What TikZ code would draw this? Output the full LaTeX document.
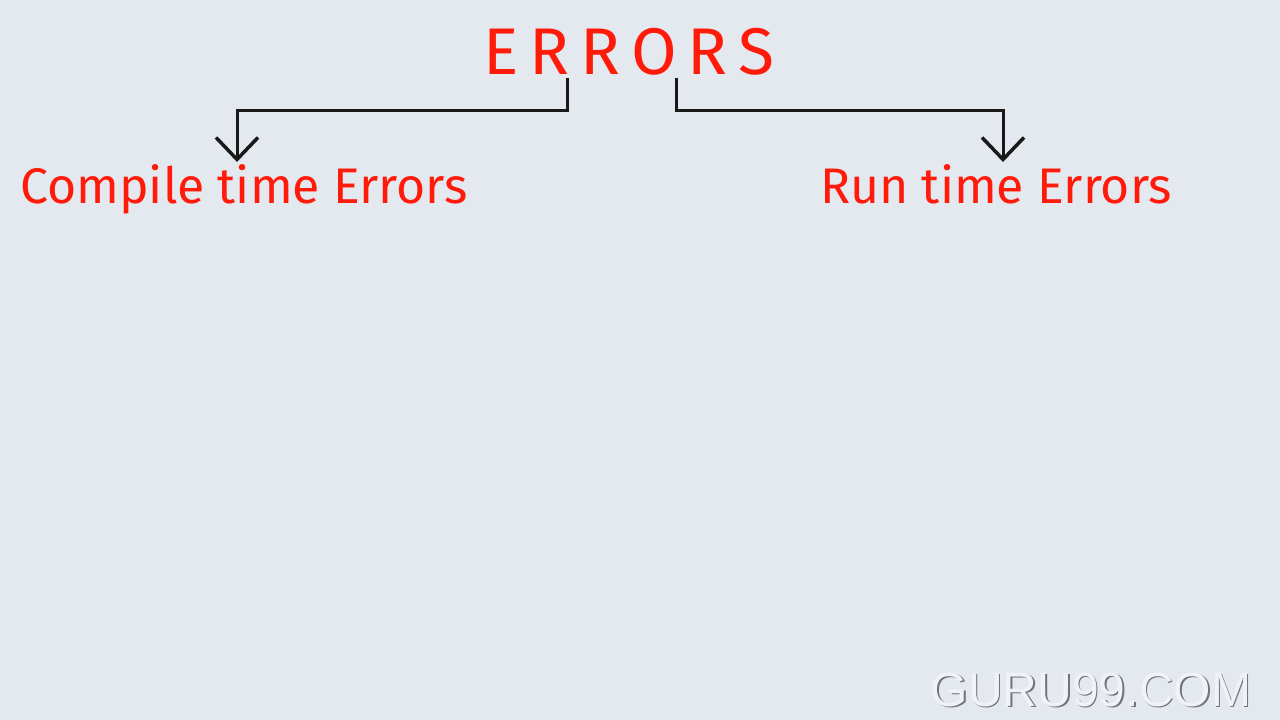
\documentclass[tikz,border=0pt]{standalone}
\usepackage{fontspec}
\setmainfont{Fira Sans}
\newfontfamily\markfont{Liberation Sans}
\usetikzlibrary{arrows.meta,positioning}
\definecolor{bgblue}{HTML}{E4E9F0}
\definecolor{errred}{HTML}{FF1A0A}
\tikzset{
  head/.style={font=\fontsize{66}{70}\selectfont, text=errred, inner sep=0pt, anchor=base},
  kind/.style={font=\fontsize{50}{54}\selectfont, text=errred, inner sep=0pt, anchor=base},
  branch/.style={-{Straight Barb[length=22pt, width=42pt, line width=3.5pt]}, line width=3pt, black!90},
}
\begin{document}
\begin{tikzpicture}[x=1pt, y=-1pt]
\fill[bgblue] (0,0) rectangle (1280,720);
\useasboundingbox (0,0) rectangle (1280,720);
\node[head] (err) at (629,74) {E\,R\,R\,O\,R\,S};
\node[kind] (cte) at (244,203) {Compile time Errors};
\node[kind] (rte) at (996,203) {Run time Errors};
\coordinate (tl) at (567,78);
\coordinate (tr) at (676,78);
\coordinate (la) at (237,162);
\coordinate (ra) at (1003,162);
\draw[branch] (tl) -- ++(0,32) -| (la);
\draw[branch] (tr) -- ++(0,32) -| (ra);
% watermark
\node[font=\markfont\fontsize{48}{50}\selectfont, text=black!55] (wm) at (1092.5,691) {GURU99.COM};
\node[font=\markfont\fontsize{48}{50}\selectfont, text=bgblue!60!white] at ([shift={(-1.5,-1.5)}]wm.center) {GURU99.COM};
\end{tikzpicture}
\end{document}
